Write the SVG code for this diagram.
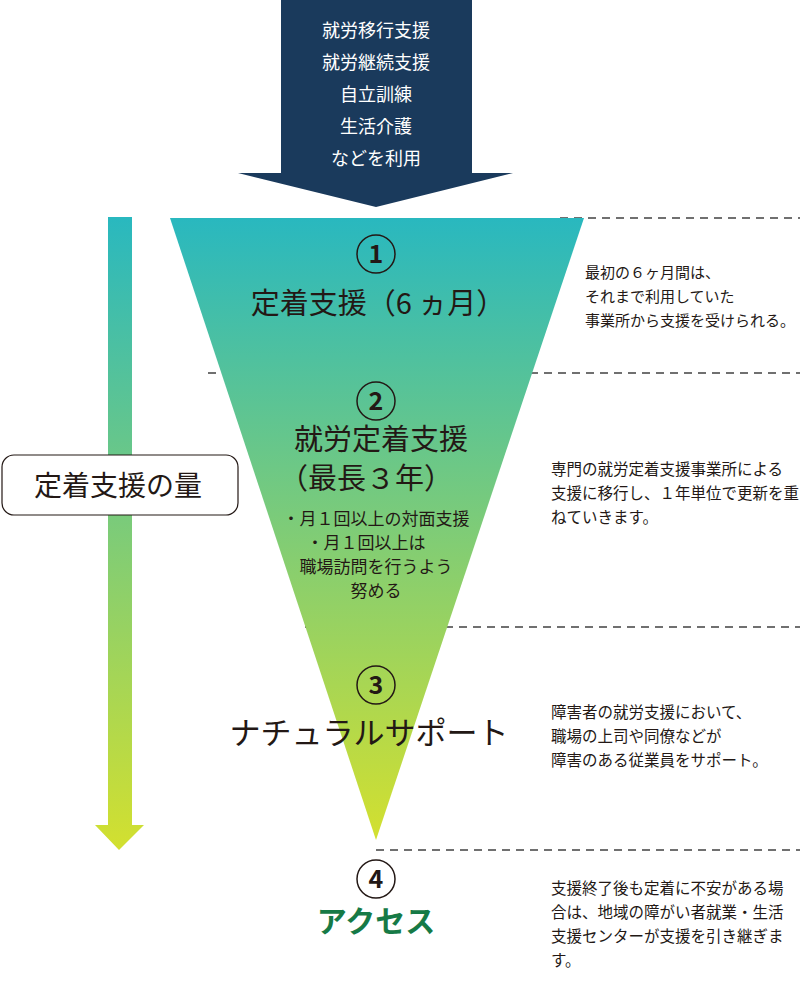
<svg xmlns="http://www.w3.org/2000/svg" width="800" height="982" viewBox="0 0 800 982">
<style>
text{font-family:"Noto Sans CJK JP","Noto Sans",sans-serif;fill:#231815}
.big{font-size:29px;text-anchor:middle}
.bul{font-size:17px;text-anchor:middle}
.note{font-size:15.5px}
.note1{font-size:15px}
.num{font-size:25px;font-weight:bold;text-anchor:middle}
.dash{stroke:#707070;stroke-width:2;stroke-dasharray:8 6;fill:none}
.top{fill:#fff;font-size:18px;text-anchor:middle}
</style>
<defs>
<linearGradient id="g" x1="0" y1="0" x2="0" y2="1">
<stop offset="0" stop-color="#29b8bf"/><stop offset="1" stop-color="#d3e02f"/>
</linearGradient>
</defs>
<g id="connectors">
<line class="dash" x1="560" y1="218" x2="800" y2="218"/>
<line class="dash" x1="208" y1="373" x2="800" y2="373"/>
<line class="dash" x1="305" y1="627" x2="800" y2="627"/>
<line class="dash" x1="376" y1="850" x2="800" y2="850"/>
</g>
<g id="top-arrow">
<polygon points="281,0 472,0 472,173 513,173 376,207 238,173 281,173" fill="#1a3a5c"/>
<text class="top" x="376" y="37">就労移行支援</text>
<text class="top" x="376" y="69">就労継続支援</text>
<text class="top" x="376" y="101">自立訓練</text>
<text class="top" x="376" y="133">生活介護</text>
<text class="top" x="376" y="165">などを利用</text>
</g>
<g id="amount-arrow">
<polygon points="108,217 132,217 132,825 144,825 119,850 95,825 108,825" fill="url(#g)"/>
</g>
<g id="amount-label">
<rect x="2" y="455" width="236" height="60" rx="12" fill="#fff" stroke="#231815" stroke-width="1.2"/>
<text x="118" y="496" style="font-size:28px;text-anchor:middle">定着支援の量</text>
</g>
<g id="funnel">
<polygon points="170,218 584,218 376,840" fill="url(#g)"/>
</g>
<g id="step1">
<circle cx="376" cy="254" r="19" fill="none" stroke="#231815" stroke-width="1.5"/>
<text class="num" x="376" y="263">1</text>
<text class="big" x="378" y="314">定着支援（6 ヵ月）</text>
<text class="note1" x="585" y="278">最初の６ヶ月間は、</text>
<text class="note1" x="585" y="302">それまで利用していた</text>
<text class="note1" x="585" y="326">事業所から支援を受けられる。</text>
</g>
<g id="step2">
<circle cx="376" cy="401" r="19" fill="none" stroke="#231815" stroke-width="1.5"/>
<text class="num" x="376" y="410">2</text>
<text class="big" x="381" y="450">就労定着支援</text>
<text class="big" x="366" y="489">（最長３年）</text>
<text class="bul" x="376" y="525">・月１回以上の対面支援</text>
<text class="bul" x="366" y="549">・月１回以上は</text>
<text class="bul" x="376" y="573">職場訪問を行うよう</text>
<text class="bul" x="376" y="597">努める</text>
<text class="note" x="551" y="475">専門の就労定着支援事業所による</text>
<text class="note" x="551" y="499">支援に移行し、１年単位で更新を重</text>
<text class="note" x="551" y="523">ねていきます。</text>
</g>
<g id="step3">
<circle cx="376" cy="685" r="19" fill="none" stroke="#231815" stroke-width="1.5"/>
<text class="num" x="376" y="694">3</text>
<text class="big" x="369" y="744" style="font-size:31px">ナチュラルサポート</text>
<text class="note" x="551" y="718">障害者の就労支援において、</text>
<text class="note" x="551" y="742">職場の上司や同僚などが</text>
<text class="note" x="551" y="766">障害のある従業員をサポート。</text>
</g>
<g id="step4">
<circle cx="376" cy="879" r="19" fill="none" stroke="#231815" stroke-width="1.5"/>
<text class="num" x="376" y="888">4</text>
<text x="376" y="932" style="font-size:30px;font-weight:bold;text-anchor:middle;fill:#167a46">アクセス</text>
<text class="note" x="551" y="894">支援終了後も定着に不安がある場</text>
<text class="note" x="551" y="918">合は、地域の障がい者就業・生活</text>
<text class="note" x="551" y="942">支援センターが支援を引き継ぎま</text>
<text class="note" x="551" y="966">す。</text>
</g>
</svg>
